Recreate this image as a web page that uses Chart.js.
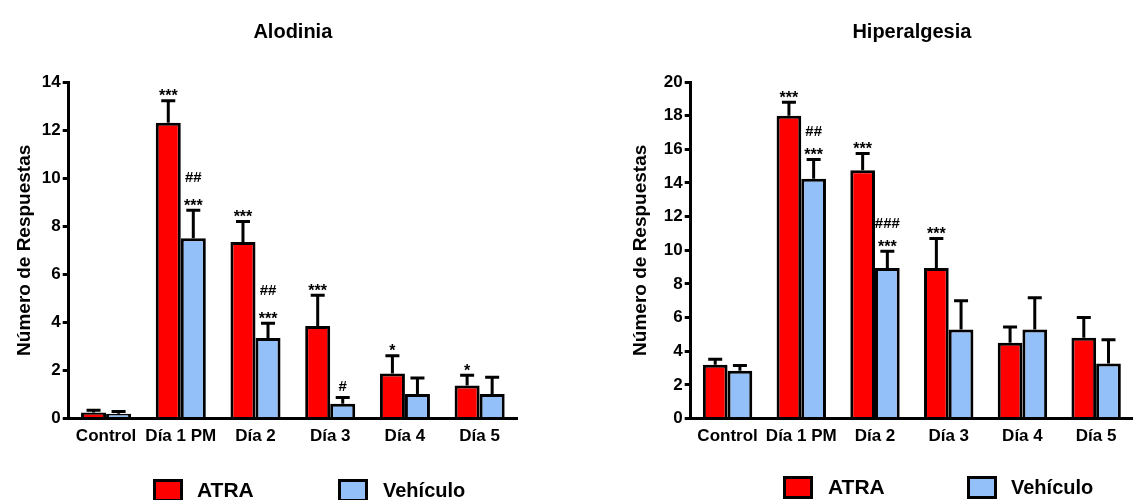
<!DOCTYPE html>
<html>
<head>
<meta charset="utf-8">
<script src="https://cdn.jsdelivr.net/npm/chart.js@4/dist/chart.umd.min.js"></script>
<style>
    body { margin: 0; width: 1133px; height: 500px; overflow: hidden; background: #fff; position: relative; }
    .box { position: absolute; top: 0; }
    .legend { position: absolute; font: bold 20px "Liberation Sans", Arial, sans-serif; color: #000; }
    .swatch { position: absolute; width: 24px; height: 17px; border: 3px solid #000; }
    .lbl { position: absolute; line-height: 24px; white-space: nowrap; }
</style>
</head>
<body>
<div class="box" style="left:0px"><canvas id="alodinia" width="560" height="500"></canvas></div>
<div class="box" style="left:616px"><canvas id="hiperalgesia" width="560" height="500"></canvas></div>

<div class="legend" style="left:0;top:0">
    <div class="swatch" style="left:153px;top:479px;background:#ff0000"></div>
    <div class="lbl" style="left:197px;top:478px;font-size:21px">ATRA</div>
    <div class="swatch" style="left:338px;top:479px;background:#93c0f8"></div>
    <div class="lbl" style="left:383px;top:478px">Vehículo</div>
    <div class="swatch" style="left:783px;top:476px;background:#ff0000"></div>
    <div class="lbl" style="left:828px;top:475px;font-size:21px">ATRA</div>
    <div class="swatch" style="left:967px;top:476px;background:#93c0f8"></div>
    <div class="lbl" style="left:1011px;top:475px">Vehículo</div>
</div>

<script>
// categories on the x axis
const dias = ['Control', 'Día 1 PM', 'Día 2', 'Día 3', 'Día 4', 'Día 5'];

// Alodinia: means and SEM (upper error bar)
const alodATRA = [0.25, 12.3, 7.35, 3.85, 1.88, 1.38];
const alodATRAerr = [0.1, 0.92, 0.85, 1.28, 0.73, 0.42];
const alodVeh = [0.2, 7.5, 3.35, 0.62, 1.02, 1.02];
const alodVehErr = [0.1, 1.17, 0.62, 0.26, 0.67, 0.7];
const alodATRAmarks = [[], ['***'], ['***'], ['***'], ['*'], ['*']];
const alodVehMarks = [[], ['##', '***'], ['##', '***'], ['#'], [], []];

// Hiperalgesia
const hipATRA = [3.2, 18.0, 14.75, 8.95, 4.5, 4.8];
const hipATRAerr = [0.32, 0.8, 1.0, 1.75, 0.95, 1.2];
const hipVeh = [2.85, 14.25, 8.95, 5.3, 5.3, 3.27];
const hipVehErr = [0.3, 1.15, 1.0, 1.7, 1.88, 1.42];
const hipATRAmarks = [[], ['***'], ['***'], ['***'], [], []];
const hipVehMarks = [[], ['##', '***'], ['###', '***'], [], [], []];

const FONT = '"Liberation Sans", Arial, sans-serif';
const ROJO = '#ff0000';
const AZUL = '#93c0f8';

// error bars + significance marks
const errorBars = {
    id: 'errorBars',
    afterDatasetsDraw(chart, args, opts) {
        const ctx = chart.ctx;
        const yScale = chart.scales.y;
        ctx.save();
        chart.data.datasets.forEach((ds, i) => {
            const meta = chart.getDatasetMeta(i);
            meta.data.forEach((bar, j) => {
                const top = yScale.getPixelForValue(ds.data[j] + ds.errors[j]);
                ctx.strokeStyle = '#000';
                ctx.lineWidth = 3;
                ctx.beginPath();
                ctx.moveTo(bar.x, bar.y);
                ctx.lineTo(bar.x, top);
                ctx.moveTo(bar.x - 7, top);
                ctx.lineTo(bar.x + 7, top);
                ctx.stroke();

                const lines = ds.marks[j];
                ctx.fillStyle = '#000';
                ctx.textAlign = 'center';
                ctx.textBaseline = 'bottom';
                for (let k = lines.length - 1, n = 0; k >= 0; k--, n++) {
                    const isStar = lines[k].indexOf('*') >= 0;
                    ctx.font = 'bold ' + (isStar ? 16 : 15) + 'px ' + FONT;
                    const y = top - 1 - n * opts.gap + (isStar ? 5 : -2);
                    ctx.fillText(lines[k], bar.x, y);
                }
            });
        });
        ctx.restore();
    }
};

function makeChart(id, titulo, atra, atraErr, atraMarks, veh, vehErr, vehMarks, yMax, titlePad, gap) {
    const canvas = document.getElementById(id);
    return new Chart(canvas.getContext('2d'), {
        type: 'bar',
        data: {
            labels: dias,
            datasets: [
                { label: 'ATRA', data: atra, errors: atraErr, marks: atraMarks,
                  backgroundColor: ROJO, borderColor: '#000', borderWidth: 3 },
                { label: 'Vehículo', data: veh, errors: vehErr, marks: vehMarks,
                  backgroundColor: AZUL, borderColor: '#000', borderWidth: 3 }
            ]
        },
        options: {
            responsive: false,
            animation: false,
            devicePixelRatio: 1,
            layout: { padding: { left: 13, right: 43, top: 0, bottom: 45 } },
            datasets: { bar: { categoryPercentage: 0.67, barPercentage: 1 } },
            plugins: {
                legend: { display: false },
                tooltip: { enabled: false },
                title: {
                    display: true, text: titulo, fullSize: false, color: '#000',
                    font: { family: FONT, size: 20, weight: 'bold' },
                    padding: { top: 20, bottom: 38 }
                },
                errorBars: { gap: gap }
            },
            scales: {
                x: {
                    grid: { display: true, drawOnChartArea: false, drawTicks: false },
                    border: { display: true, color: '#000', width: 3 },
                    ticks: { color: '#000', padding: 8, autoSkip: false, minRotation: 0, maxRotation: 0,
                             font: { family: FONT, size: 17, weight: 'bold' } }
                },
                y: {
                    min: 0, max: yMax,
                    ticks: { stepSize: 2, color: '#000', padding: 2, font: { family: FONT, size: 17, weight: 'bold' } },
                    grid: { display: true, drawOnChartArea: false, drawTicks: true, tickLength: 6, color: '#000', lineWidth: 3 },
                    border: { display: true, color: '#000', width: 3 },
                    title: {
                        display: true, text: 'Número de Respuestas', color: '#000',
                        font: { family: FONT, size: 19, weight: 'bold' },
                        padding: titlePad
                    }
                }
            }
        },
        plugins: [errorBars]
    });
}

document.addEventListener('DOMContentLoaded', function () {
    makeChart('alodinia', 'Alodinia', alodATRA, alodATRAerr, alodATRAmarks,
        alodVeh, alodVehErr, alodVehMarks, 14, { top: 0, bottom: 4 }, 22);
    makeChart('hiperalgesia', 'Hiperalgesia', hipATRA, hipATRAerr, hipATRAmarks,
        hipVeh, hipVehErr, hipVehMarks, 20, { top: 0, bottom: 10 }, 17);
});
</script>
</body>
</html>
